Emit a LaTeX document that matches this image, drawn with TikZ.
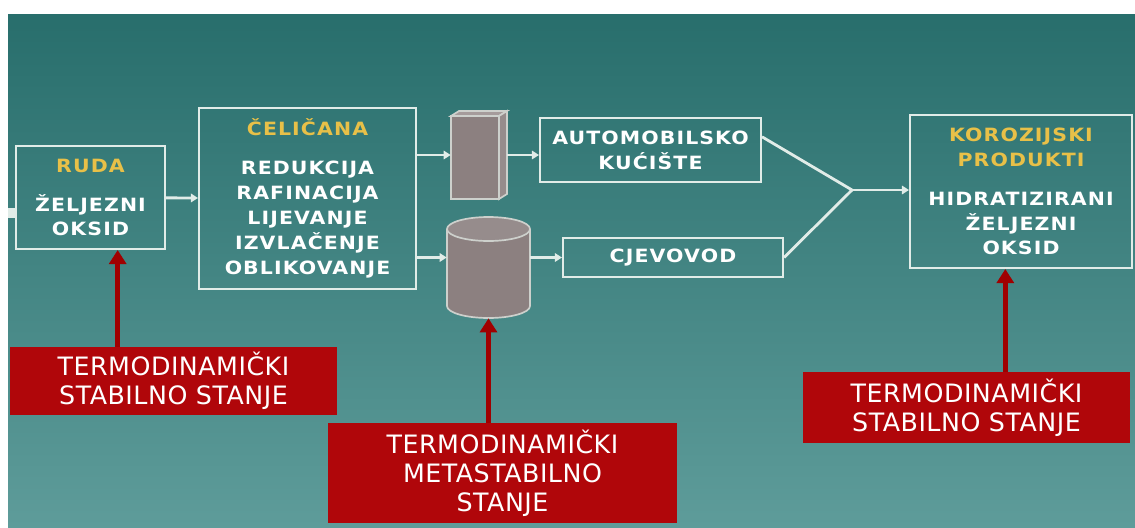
\documentclass[tikz,border=0pt]{standalone}
\usepackage{fontspec}
\usetikzlibrary{positioning,arrows.meta,calc}

\newfontfamily\boxfont{DejaVu Sans}[FakeStretch=1.12,LetterSpace=6]
\newfontfamily\notefont{DejaVu Sans}[LetterSpace=2]

\definecolor{tealtop}{RGB}{40,110,108}
\definecolor{tealbot}{RGB}{94,156,154}
\definecolor{boxline}{RGB}{225,236,232}
\definecolor{headyellow}{RGB}{232,192,72}
\definecolor{boxred}{RGB}{176,6,10}
\definecolor{arrowred}{RGB}{160,0,0}
\definecolor{steelfront}{RGB}{140,128,128}
\definecolor{steeltop}{RGB}{165,155,155}
\definecolor{steelside}{RGB}{150,140,140}
\definecolor{steelline}{RGB}{205,208,204}

\begin{document}
\begin{tikzpicture}[x=0.025cm, y=-0.025cm,
  box/.style={draw=boxline, line width=1.4pt, inner sep=0pt, align=center, text=white,
    font=\boxfont\bfseries\fontsize{13}{17.7}\selectfont},
  redbox/.style={fill=boxred, inner sep=0pt, align=center, text=white,
    font=\notefont\fontsize{18}{20.6}\selectfont},
  flow/.style={draw=boxline, line width=2pt, -{Triangle[length=5pt,width=6pt]}},
  link/.style={draw=boxline, line width=2pt, line join=miter},
  cause/.style={draw=arrowred, line width=3.5pt, -{Triangle[length=10pt,width=12pt]}},
  steel/.style={draw=steelline, line width=1.2pt}]

  \useasboundingbox (0,0) rectangle (1135,527);
  \fill[white] (0,0) rectangle (1135,527);
  \shade[top color=tealtop, bottom color=tealbot] (8,14) rectangle (1135,527);
  \fill[boxline] (8,208) rectangle (15,218);

  % process boxes
  \node[box, minimum width=3.725cm, minimum height=2.575cm] (ruda) at (90.5,197.5)
    {{\color{headyellow}RUDA}\\[10pt] ŽELJEZNI\\OKSID};
  \node[box, minimum width=5.425cm, minimum height=4.525cm] (cel) at (307.5,198.5)
    {{\color{headyellow}ČELIČANA}\\[10pt] REDUKCIJA\\RAFINACIJA\\LIJEVANJE\\IZVLAČENJE\\OBLIKOVANJE};
  \node[box, minimum width=5.525cm, minimum height=1.6cm] (car) at (650.5,150)
    {AUTOMOBILSKO\\KUĆIŠTE};
  \node[box, minimum width=5.5cm, minimum height=0.975cm] (cjev) at (673,257.5) {CJEVOVOD};
  \node[box, minimum width=5.55cm, minimum height=3.825cm] (koroz) at (1021,191.5)
    {{\color{headyellow}KOROZIJSKI}\\{\color{headyellow}PRODUKTI}\\[10pt] HIDRATIZIRANI\\ŽELJEZNI\\OKSID};

  % steel slab
  \filldraw[steel, fill=steelfront] (451,116) rectangle (499,199);
  \filldraw[steel, fill=steeltop] (451,116) -- (459,111) -- (507,111) -- (499,116) -- cycle;
  \filldraw[steel, fill=steelside] (499,116) -- (507,111) -- (507,194) -- (499,199) -- cycle;
  \node[minimum width=1.4cm, minimum height=2.2cm, inner sep=0pt] (slab) at (479,155) {};

  % steel pipe stock
  \filldraw[steel, fill=steelfront] (488.5,306) ellipse [x radius=41.5, y radius=12];
  \fill[steelfront] (447,229) rectangle (530,306);
  \draw[steel] (447,229) -- (447,306) (530,229) -- (530,306);
  \filldraw[steel, fill=steelside] (488.5,229) ellipse [x radius=41.5, y radius=12];
  \node[minimum width=2.075cm, minimum height=2.525cm, inner sep=0pt] (tank) at (488.5,267.5) {};

  \draw[flow] (ruda) -- (cel);
  \draw[flow] (cel.east |- slab) -- (slab);
  \draw[flow] (slab) -- (car.west |- slab);
  \draw[flow] (cel.east |- cjev) -- (tank.west |- cjev);
  \draw[flow] (tank.east |- cjev) -- (cjev);
  \coordinate (merge) at (852,190);
  \draw[link] ($(car.north east)!.3!(car.south east)$) -- (merge) -- (cjev.east);
  \draw[flow] (merge) -- (koroz.west |- merge);

  % states
  \node[redbox, minimum width=8.175cm, minimum height=1.7cm] (r1) at (173.5,381)
    {TERMODINAMIČKI\\STABILNO STANJE};
  \node[redbox, minimum width=8.725cm, minimum height=2.5cm] (r2) at (502.5,473)
    {TERMODINAMIČKI\\METASTABILNO\\STANJE};
  \node[redbox, minimum width=8.175cm, minimum height=1.775cm] (r3) at (966.5,407.5)
    {TERMODINAMIČKI\\STABILNO STANJE};

  \coordinate (rudafoot) at ($(ruda.south west)!.68!(ruda.south east)$);
  \coordinate (korozfoot) at ($(koroz.south west)!.43!(koroz.south east)$);
  \draw[cause] (r1.north -| rudafoot) -- (rudafoot);
  \draw[cause] (r2.north -| tank.south) -- (tank.south);
  \draw[cause] (r3.north -| korozfoot) -- (korozfoot);
\end{tikzpicture}
\end{document}
